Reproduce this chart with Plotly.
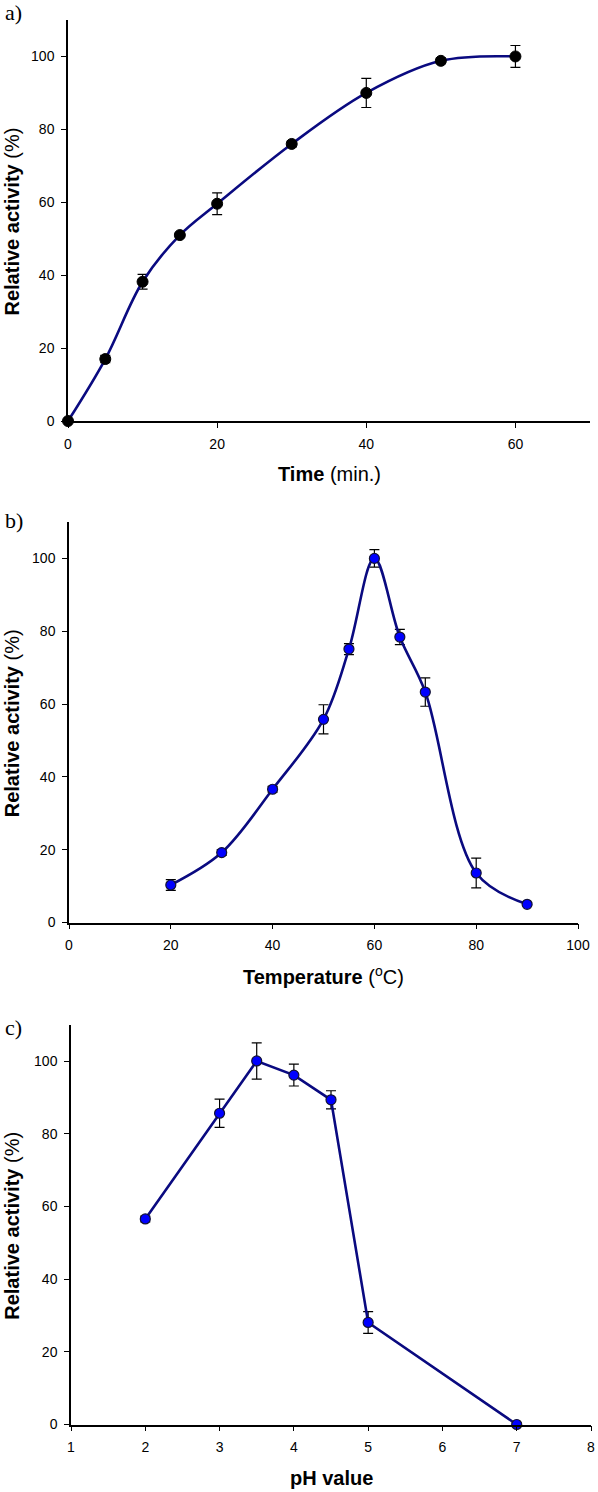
import plotly.graph_objects as go

# ---- data ----
time_min = [0, 5, 10, 15, 20, 30, 40, 50, 60]
time_act = [0, 17.0, 38.2, 51.0, 59.6, 76.0, 90.0, 98.8, 100.0]
time_err = [0.4, 1.0, 2.0, 0.6, 3.0, 0.8, 4.0, 0.8, 3.0]

temp_c = [20, 30, 40, 50, 55, 60, 65, 70, 80, 90]
temp_act = [10.3, 19.2, 36.6, 55.8, 75.1, 100.0, 78.4, 63.3, 13.6, 5.0]
temp_err = [1.5, 0.8, 0.8, 4.0, 1.5, 2.4, 2.1, 3.9, 4.1, 0.4]

ph_val = [2, 3, 3.5, 4, 4.5, 5, 7]
ph_act = [56.6, 85.7, 100.1, 96.2, 89.4, 28.1, 0.0]
ph_err = [0.8, 3.9, 5.0, 3.0, 2.5, 3.0, 0.3]

x_ticks_a = [0, 20, 40, 60]
x_ticks_b = [0, 20, 40, 60, 80, 100]
x_ticks_c = [1, 2, 3, 4, 5, 6, 7, 8]
y_ticks = [0, 20, 40, 60, 80, 100]

W, H = 598, 1492
LINE = "#0a0a80"
BLUE = "#0000ff"
FONT = "Liberation Sans, Arial, sans-serif"


def px_x(p):
    return p / W


def px_y(p):
    return 1 - p / H


fig = go.Figure()

err_style = dict(type="data", color="black", thickness=1.2, width=5)

fig.add_trace(go.Scatter(
    x=time_min, y=time_act, xaxis="x", yaxis="y",
    mode="lines+markers",
    line=dict(color=LINE, width=2.6, shape="spline", smoothing=1.0),
    marker=dict(color="black", size=11, line=dict(color="black", width=1)),
    error_y=dict(array=time_err, **err_style),
    cliponaxis=False, showlegend=False))

fig.add_trace(go.Scatter(
    x=temp_c, y=temp_act, xaxis="x2", yaxis="y2",
    mode="lines+markers",
    line=dict(color=LINE, width=2.6, shape="spline", smoothing=1.0),
    marker=dict(color=BLUE, size=10, line=dict(color="#111133", width=1.2)),
    error_y=dict(array=temp_err, **err_style),
    cliponaxis=False, showlegend=False))

fig.add_trace(go.Scatter(
    x=ph_val, y=ph_act, xaxis="x3", yaxis="y3",
    mode="lines+markers",
    line=dict(color=LINE, width=2.6),
    marker=dict(color=BLUE, size=10, line=dict(color="#111133", width=1.2)),
    error_y=dict(array=ph_err, **err_style),
    cliponaxis=False, showlegend=False))

common_axis = dict(
    showgrid=False, zeroline=False, showline=True, linecolor="black",
    linewidth=1.5, ticks="outside", ticklen=5, tickwidth=1.2,
    tickcolor="black", automargin=False,
    tickfont=dict(family=FONT, size=14, color="black"),
)

panels = [
    # (x px left, x px right, y px top, y px bottom, x range, x ticks)
    (68, 590, 20, 421, [0, 70], x_ticks_a),
    (69, 578, 522, 922.5, [0, 100], x_ticks_b),
    (71, 591, 1025, 1424.5, [1, 8], x_ticks_c),
]

layout = dict(
    width=W, height=H,
    margin=dict(l=0, r=0, t=0, b=0),
    paper_bgcolor="white", plot_bgcolor="white",
    showlegend=False,
)

for i, (xl, xr, yt, yb, xr_range, xt) in enumerate(panels):
    sfx = "" if i == 0 else str(i + 1)
    layout["xaxis" + sfx] = dict(
        common_axis, domain=[px_x(xl), px_x(xr)], range=xr_range,
        tickvals=xt, anchor="y" + sfx, ticklabelstandoff=4)
    layout["yaxis" + sfx] = dict(
        common_axis, domain=[px_y(yb), px_y(yt)], range=[0, 110],
        tickvals=y_ticks, anchor="x" + sfx, ticklabelstandoff=4)

fig.update_layout(**layout)

ann = []
titles_x = [
    "<b>Time</b> (min.)",
    "<b>Temperature</b> (<sup>o</sup>C)",
    "<b>pH value</b>",
]
for i, txt in enumerate(titles_x):
    xl, xr, yt, yb = panels[i][:4]
    ann.append(dict(text=txt, x=px_x((xl + xr) / 2), y=px_y(yb + 53),
                    xref="paper", yref="paper",
                    showarrow=False, xanchor="center", yanchor="middle",
                    font=dict(family=FONT, size=20, color="black")))

for i in range(3):
    yt, yb = panels[i][2], panels[i][3]
    ann.append(dict(text="<b>Relative activity</b> (%)", x=px_x(12),
                    y=px_y((yt + yb) / 2 + 1), xref="paper", yref="paper",
                    showarrow=False, textangle=-90, xanchor="center",
                    yanchor="middle",
                    font=dict(family=FONT, size=20, color="black")))

for lab, yc in [("a)", 12), ("b)", 520), ("c)", 1027)]:
    ann.append(dict(text=lab, x=px_x(3), y=px_y(yc), xref="paper",
                    yref="paper", showarrow=False, xanchor="left",
                    yanchor="middle",
                    font=dict(family="Liberation Serif, Times New Roman, serif",
                              size=22, color="black")))

fig.update_layout(annotations=ann)
fig.write_html(
    "out.html",
    config={"displayModeBar": False},
    post_script="document.body.style.margin='0';"
                "document.body.style.overflow='hidden';")
